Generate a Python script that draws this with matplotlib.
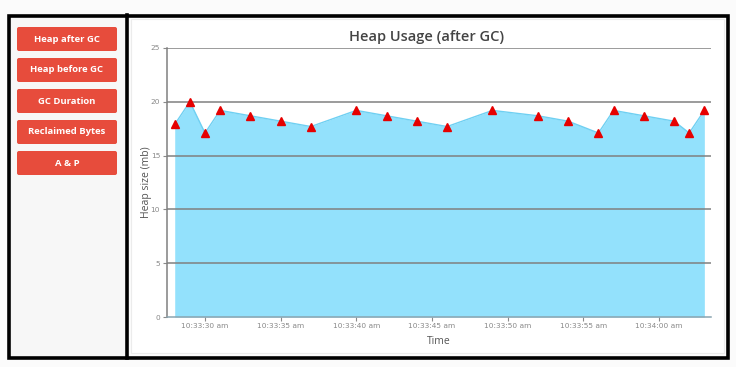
import matplotlib
matplotlib.use('Agg')
import matplotlib.pyplot as plt
import matplotlib.dates as mdates
from matplotlib.patches import Rectangle, FancyBboxPatch
from matplotlib.ticker import FuncFormatter
import pandas as pd

# data
times = ['10:33:28', '10:33:29', '10:33:30', '10:33:31', '10:33:33',
         '10:33:35', '10:33:37', '10:33:40', '10:33:42', '10:33:44',
         '10:33:46', '10:33:49', '10:33:52', '10:33:54', '10:33:56',
         '10:33:57', '10:33:59', '10:34:01', '10:34:02', '10:34:03']
heap_mb = [17.9, 20.0, 17.1, 19.2, 18.7, 18.2, 17.7, 19.2, 18.7, 18.2,
           17.7, 19.2, 18.7, 18.2, 17.1, 19.2, 18.7, 18.2, 17.1, 19.2]
tick_times = ['10:33:30', '10:33:35', '10:33:40', '10:33:45',
              '10:33:50', '10:33:55', '10:34:00']
y_ticks = [0, 5, 10, 15, 20, 25]
buttons = ['Heap after GC', 'Heap before GC', 'GC Duration',
           'Reclaimed Bytes', 'A & P']

day = '2020-01-01 '
t = pd.to_datetime([day + s for s in times])
ticks = pd.to_datetime([day + s for s in tick_times])

W, H = 736, 367
fig = plt.figure(figsize=(W / 100, H / 100), dpi=100)
fig.patch.set_facecolor('#fbfbfb')


def px(x0, y0, x1, y1):
    # pixel box -> figure fraction (x, y, w, h)
    return x0 / W, 1 - y1 / H, (x1 - x0) / W, (y1 - y0) / H


# panels and black frames
bg = fig.add_axes([0, 0, 1, 1], zorder=-5)
bg.set_xlim(0, W)
bg.set_ylim(H, 0)
bg.axis('off')
bg.add_patch(Rectangle((8, 15), 118, 343, facecolor='#f7f7f7', edgecolor='none'))
bg.add_patch(Rectangle((131, 19), 593, 334, facecolor='white', edgecolor='#ececec', lw=0.8))
bg.add_patch(Rectangle((8.5, 15.5), 719, 342, fill=False, edgecolor='black', lw=2.6))
bg.plot([126.5, 126.5], [15, 358], color='black', lw=2.6)

for i, label in enumerate(buttons):
    y0 = 26 + i * 31
    bg.add_patch(FancyBboxPatch((17, y0 + 1), 100, 24,
                                boxstyle='round,pad=0,rounding_size=2',
                                facecolor='#e74c3c', edgecolor='none'))
    bg.text(67, y0 + 13, label, color='white', fontsize=6.8, fontweight='bold',
            family='Open Sans', ha='center', va='center')

# title is centred on the white panel, not on the plot area
bg.text(427, 37, 'Heap Usage (after GC)', fontsize=10.5, fontweight='semibold',
        family='Open Sans', color='#444444', ha='center', va='center')

# chart
ax = fig.add_axes(px(167, 48, 711, 317))
ax.fill_between(t, heap_mb, 0, color='#93e1fc', lw=0, zorder=1)
ax.plot(t, heap_mb, color='#6fd0f2', lw=1, zorder=2)
ax.plot(t, heap_mb, ls='none', marker='^', ms=5.5, color='#e60000', zorder=4)

for v in y_ticks[1:]:
    ax.axhline(v, color='#808080', lw=1.1, zorder=3)

x0 = pd.Timestamp(day + '10:33:27.49')
x1 = pd.Timestamp(day + '10:34:03.44')
ax.set_xlim(x0, x1)
ax.set_ylim(0, 25)
ax.set_yticks(y_ticks)
ax.set_xticks(ticks)
ax.xaxis.set_major_formatter(FuncFormatter(
    lambda v, p: mdates.num2date(v).strftime('%H:%M:%S ') + mdates.num2date(v).strftime('%p').lower()))

for s in ['top', 'right']:
    ax.spines[s].set_visible(False)
ax.spines['left'].set_color('#808080')
ax.spines['left'].set_linewidth(1.1)
ax.spines['bottom'].set_color('#8aa4b0')
ax.spines['bottom'].set_linewidth(1.1)
ax.set_facecolor('none')
ax.tick_params(axis='both', labelsize=5.3, colors='#8a8a8a', length=3, width=0.8, pad=2)
ax.tick_params(axis='x', pad=1.5)
for lab in ax.get_xticklabels() + ax.get_yticklabels():
    lab.set_color('#888888')

ax.set_ylabel('Heap size (mb)', fontsize=7.5, family='Open Sans', color='#555555', labelpad=-1)
ax.set_xlabel('Time', fontsize=7.5, family='Open Sans', color='#555555', labelpad=5)

fig.savefig('out.png', dpi=100, facecolor=fig.get_facecolor())
